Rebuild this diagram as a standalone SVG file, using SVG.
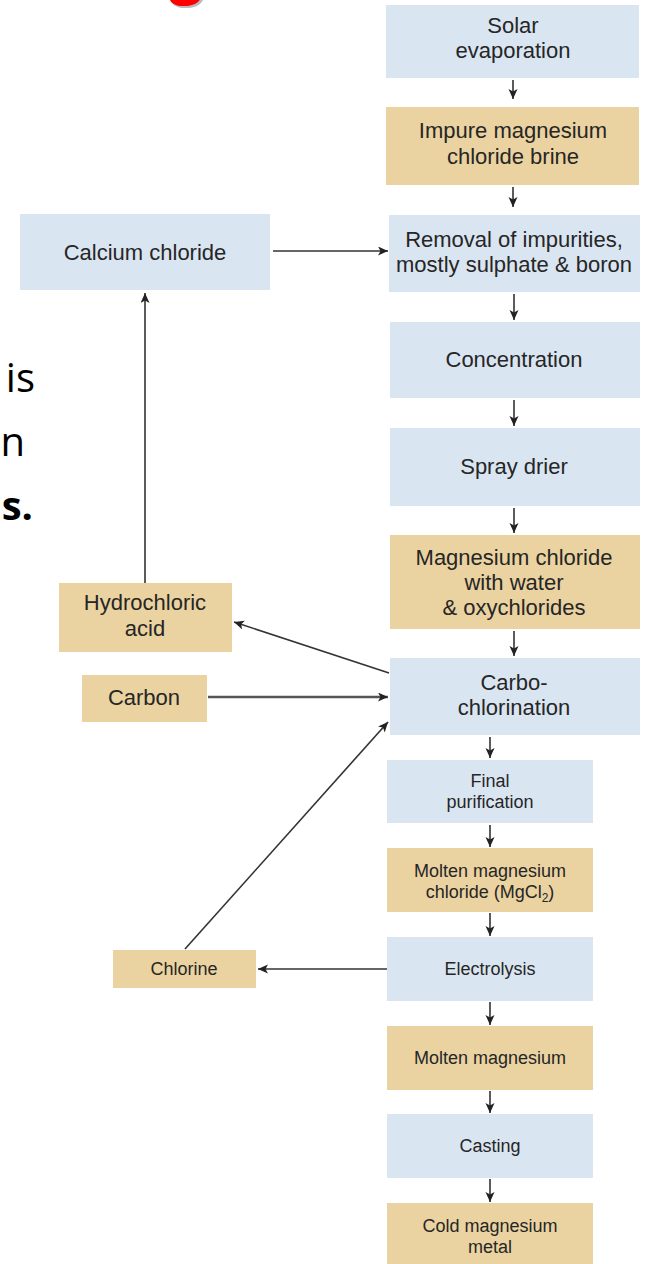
<svg xmlns="http://www.w3.org/2000/svg" width="645" height="1264" viewBox="0 0 645 1264">
  <style>
    .blue { fill: #dae5f2; }
    .tan { fill: #ead3a0; }
    .lbl { font-family: "Liberation Sans", Arial, sans-serif; font-size: 22px; fill: #262626; text-anchor: middle; }
    .sm { font-size: 18px; }
    .slide { font-family: "Open Sans", "Noto Sans", sans-serif; font-size: 40px; fill: #000; text-anchor: end; }
    .conn { stroke: #333; stroke-width: 1.6; fill: none; }
  </style>
  <defs>
    <marker id="arr" markerUnits="userSpaceOnUse" markerWidth="12" markerHeight="10" refX="10" refY="4.5" orient="auto">
      <path d="M0,0 L10,4.5 L0,9 L2.5,4.5 z" fill="#222"/>
    </marker>
  </defs>

  <!-- slide text fragments at the left edge -->
  <g id="slide-text">
    <text x="188" y="-7" font-family="Open Sans, sans-serif" font-size="60" font-weight="bold" fill="#bbb" text-anchor="middle">g</text>
    <text x="186" y="-9" font-family="Open Sans, sans-serif" font-size="60" font-weight="bold" fill="#f00" text-anchor="middle">g</text>
    <text class="slide" x="35" y="392">is</text>
    <text class="slide" x="25" y="456">n</text>
    <text class="slide" x="33" y="520" font-weight="bold">s.</text>
  </g>

  <!-- main process column -->
  <g id="solar-evaporation">
    <rect class="blue" x="386" y="5" width="253" height="73"/>
    <text class="lbl" x="513" y="33">Solar</text>
    <text class="lbl" x="513" y="58">evaporation</text>
  </g>
  <g id="impure-brine">
    <rect class="tan" x="386" y="107" width="253" height="78"/>
    <text class="lbl" x="513" y="138">Impure magnesium</text>
    <text class="lbl" x="513" y="164">chloride brine</text>
  </g>
  <g id="removal-impurities">
    <rect class="blue" x="389" y="215" width="251" height="77"/>
    <text class="lbl" x="514" y="247">Removal of impurities,</text>
    <text class="lbl" x="514" y="272">mostly sulphate &amp; boron</text>
  </g>
  <g id="concentration">
    <rect class="blue" x="390" y="322" width="250" height="76"/>
    <text class="lbl" x="514" y="367">Concentration</text>
  </g>
  <g id="spray-drier">
    <rect class="blue" x="390" y="428" width="250" height="78"/>
    <text class="lbl" x="514" y="474">Spray drier</text>
  </g>
  <g id="mgcl-water">
    <rect class="tan" x="390" y="535" width="250" height="94"/>
    <text class="lbl" x="514" y="565">Magnesium chloride</text>
    <text class="lbl" x="514" y="590">with water</text>
    <text class="lbl" x="514" y="615">&amp; oxychlorides</text>
  </g>
  <g id="carbo-chlorination">
    <rect class="blue" x="390" y="658" width="250" height="77"/>
    <text class="lbl" x="514" y="690">Carbo-</text>
    <text class="lbl" x="514" y="715">chlorination</text>
  </g>
  <g id="final-purification">
    <rect class="blue" x="387" y="760" width="206" height="63"/>
    <text class="lbl sm" x="490" y="787">Final</text>
    <text class="lbl sm" x="490" y="808">purification</text>
  </g>
  <g id="molten-mgcl2">
    <rect class="tan" x="387" y="848" width="206" height="64"/>
    <text class="lbl sm" x="490" y="877">Molten magnesium</text>
    <text class="lbl sm" x="490" y="898">chloride (MgCl<tspan font-size="12" dy="4">2</tspan><tspan dy="-4">)</tspan></text>
  </g>
  <g id="electrolysis">
    <rect class="blue" x="387" y="937" width="206" height="64"/>
    <text class="lbl sm" x="490" y="975">Electrolysis</text>
  </g>
  <g id="molten-magnesium">
    <rect class="tan" x="387" y="1026" width="206" height="64"/>
    <text class="lbl sm" x="490" y="1064">Molten magnesium</text>
  </g>
  <g id="casting">
    <rect class="blue" x="387" y="1114" width="206" height="64"/>
    <text class="lbl sm" x="490" y="1152">Casting</text>
  </g>
  <g id="cold-magnesium">
    <rect class="tan" x="387" y="1203" width="206" height="61"/>
    <text class="lbl sm" x="490" y="1232">Cold magnesium</text>
    <text class="lbl sm" x="490" y="1253">metal</text>
  </g>

  <!-- side streams -->
  <g id="calcium-chloride">
    <rect class="blue" x="20" y="214" width="250" height="76"/>
    <text class="lbl" x="145" y="260">Calcium chloride</text>
  </g>
  <g id="hydrochloric-acid">
    <rect class="tan" x="59" y="583" width="173" height="69"/>
    <text class="lbl" x="145" y="610">Hydrochloric</text>
    <text class="lbl" x="145" y="636">acid</text>
  </g>
  <g id="carbon">
    <rect class="tan" x="82" y="675" width="125" height="47"/>
    <text class="lbl" x="144" y="705">Carbon</text>
  </g>
  <g id="chlorine">
    <rect class="tan" x="113" y="950" width="143" height="38"/>
    <text class="lbl sm" x="184" y="975">Chlorine</text>
  </g>

  <!-- connectors -->
  <g id="connectors" class="conn" marker-end="url(#arr)">
    <path d="M513,80 V99"/>
    <path d="M513,187 V207"/>
    <path d="M514,294 V320"/>
    <path d="M514,400 V426"/>
    <path d="M514,508 V533"/>
    <path d="M514,631 V656"/>
    <path d="M490,737 V758"/>
    <path d="M490,825 V847"/>
    <path d="M490,913 V936"/>
    <path d="M490,1002 V1025"/>
    <path d="M490,1091 V1113"/>
    <path d="M490,1179 V1202"/>
    <path d="M273,251 H388"/>
    <path d="M145,583 V293"/>
    <path d="M389,673 L234,622"/>
    <path d="M208,697 H388" stroke="#555" stroke-width="2.6"/>
    <path d="M185,949 L388,722"/>
    <path d="M387,969 H258"/>
  </g>
</svg>
